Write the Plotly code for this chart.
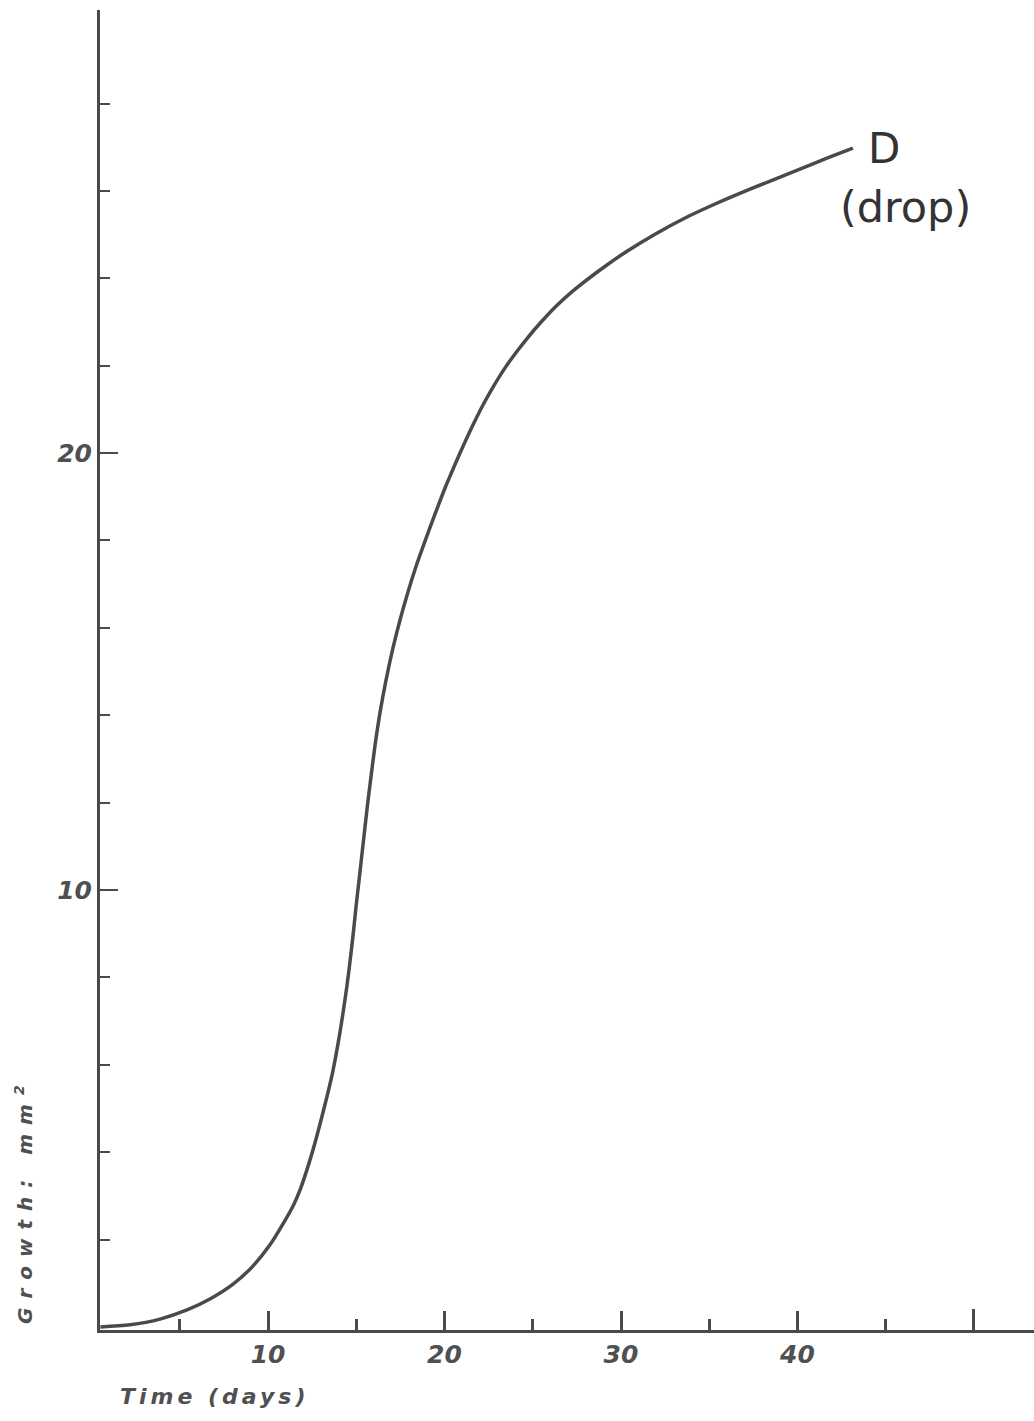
import plotly.graph_objects as go

# Data (time in days, growth in mm^2)
time_days = [0.5, 2.18, 3.88, 5.41, 6.71, 8.02, 9.09, 10.11, 10.85, 11.42, 11.81, 12.27,
             12.61, 12.95, 13.29, 13.63, 13.85, 14.08, 14.31, 14.48, 14.65, 14.82, 14.99,
             15.16, 15.33, 15.50, 15.67, 15.84, 16.06, 16.35, 16.69, 17.08, 17.48, 17.93,
             18.39, 18.90, 19.46, 20.03, 20.31, 20.88, 21.61, 22.18, 22.75, 23.43, 24.11,
             24.73, 25.41, 26.32, 27.28, 28.81, 30.34, 31.93, 33.63, 35.33, 37.31, 40.14,
             41.67, 43.14]
growth_mm2 = [0.0, 0.05, 0.18, 0.39, 0.64, 0.98, 1.37, 1.88, 2.36, 2.77, 3.13, 3.68,
              4.14, 4.65, 5.19, 5.77, 6.22, 6.75, 7.35, 7.83, 8.38, 8.97, 9.63,
              10.23, 10.85, 11.46, 12.06, 12.61, 13.30, 14.07, 14.81, 15.54, 16.18, 16.82,
              17.41, 17.99, 18.60, 19.20, 19.47, 20.00, 20.64, 21.10, 21.51, 21.95, 22.33,
              22.65, 22.97, 23.36, 23.71, 24.19, 24.62, 25.01, 25.38, 25.70, 26.04, 26.50,
              26.75, 26.98]

x_major_ticks = [10, 20, 30, 40]
x_major_labels = ["10", "20", "30", "40"]
x_minor_ticks = [5, 15, 25, 35, 45]
x_end_tick = [50]
y_major_ticks = [10, 20]
y_major_labels = ["10", "20"]
y_minor_ticks = [2, 4, 6, 8, 12, 14, 16, 18, 22, 24, 26, 28]

curve_label = "D"
curve_sublabel = "(drop)"
x_title = '<span style="letter-spacing:4px">Time (days)</span>'
y_title = '<span style="letter-spacing:9px">Growth: mm</span><sup>2</sup>'

ink = "#4a4a4a"
text_ink = "#505050"
tick_font = dict(family="DejaVu Sans", size=25, color=text_ink, style="italic", weight="bold")

fig = go.Figure()
fig.add_trace(go.Scatter(
    x=time_days, y=growth_mm2, mode="lines",
    line=dict(color=ink, width=3.5, shape="spline", smoothing=0.8),
    showlegend=False, hoverinfo="skip",
))
# invisible helper trace so the overlay axis (end tick at 50) is drawn
fig.add_trace(go.Scatter(x=[x_end_tick[0]], y=[0], xaxis="x2", mode="markers",
                         marker=dict(size=1, opacity=0), showlegend=False, hoverinfo="skip"))

xr = [0.48, 53.4]
fig.update_layout(
    width=1034, height=1421,
    margin=dict(l=100, r=0, t=10, b=91),
    paper_bgcolor="white", plot_bgcolor="white",
    xaxis=dict(
        range=xr, showgrid=False, zeroline=False,
        showline=True, linecolor=ink, linewidth=3,
        tickmode="array", tickvals=x_major_ticks, ticktext=x_major_labels,
        ticks="inside", ticklen=19, tickwidth=2.5, tickcolor=ink,
        tickfont=tick_font,
        minor=dict(tickmode="array", tickvals=x_minor_ticks, ticks="inside",
                   ticklen=11, tickwidth=2.5, tickcolor=ink),
    ),
    xaxis2=dict(
        range=xr, overlaying="x", anchor="y", side="bottom",
        showgrid=False, zeroline=False, showline=False,
        tickmode="array", tickvals=x_end_tick, showticklabels=False,
        ticks="inside", ticklen=21, tickwidth=2.5, tickcolor=ink,
    ),
    yaxis=dict(
        range=[-0.07, 30.14], showgrid=False, zeroline=False,
        showline=True, linecolor=ink, linewidth=3,
        tickmode="array", tickvals=y_major_ticks, ticktext=y_major_labels,
        ticks="inside", ticklen=18, tickwidth=2, tickcolor=ink,
        tickfont=tick_font,
        minor=dict(tickmode="array", tickvals=y_minor_ticks, ticks="inside",
                   ticklen=10, tickwidth=2, tickcolor=ink),
    ),
    annotations=[
        dict(x=44.9, y=26.98, xref="x", yref="y", text=curve_label, showarrow=False,
             font=dict(family="DejaVu Sans", size=42, color="#333"), xanchor="center", yanchor="middle"),
        dict(x=46.1, y=25.63, xref="x", yref="y", text=curve_sublabel, showarrow=False,
             font=dict(family="DejaVu Sans", size=43, color="#333"), xanchor="center", yanchor="middle"),
        dict(x=215, y=1396, xref="paper", yref="paper", text=x_title, showarrow=False,
             font=dict(family="DejaVu Sans", size=22, color=text_ink, style="italic", weight="bold"),
             xanchor="center", yanchor="middle"),
        dict(x=24, y=1205, xref="paper", yref="paper", text=y_title, showarrow=False,
             textangle=-90,
             font=dict(family="DejaVu Sans", size=20, color=text_ink, style="italic", weight="bold"),
             xanchor="center", yanchor="middle"),
    ],
)

# convert pixel-placed axis-title annotations to paper coordinates
plot_w = 1034 - 100
plot_h = 1421 - 10 - 91
for ann in fig.layout.annotations[2:]:
    px, py = ann.x, ann.y
    ann.x = (px - 100) / plot_w
    ann.y = (1421 - 91 - py) / plot_h

fig.write_html("out.html")
